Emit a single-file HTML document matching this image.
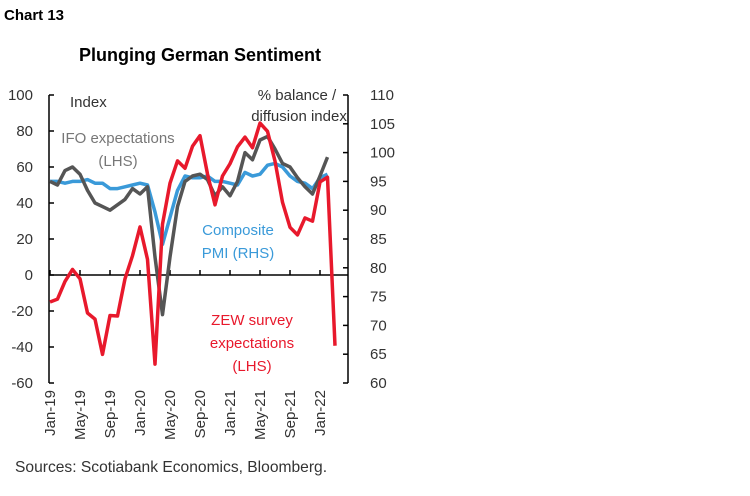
<!DOCTYPE html>
<html><head><meta charset="utf-8"><style>
body{margin:0;background:#fff;width:750px;height:491px;overflow:hidden}
svg text{font-family:"Liberation Sans",sans-serif}
</style></head><body>
<svg id="s" width="750" height="491" xmlns="http://www.w3.org/2000/svg">
<text x="4" y="20" font-size="15" font-weight="bold">Chart 13</text>
<text x="200" y="61" font-size="18" font-weight="bold" text-anchor="middle">Plunging German Sentiment</text>
<g id="ax" stroke="#000" stroke-width="1.5" fill="none"></g>
<g id="lb" font-size="15" fill="#333"></g>
<g id="ln"></g>
<text x="70" y="107" font-size="15" fill="#333">Index</text>
<text x="297" y="100" font-size="15" fill="#333" text-anchor="middle">% balance /</text>
<text x="299" y="121" font-size="15" fill="#333" text-anchor="middle">diffusion index</text>
<text x="118" y="143" font-size="15" fill="#777" text-anchor="middle">IFO expectations</text>
<text x="118" y="166" font-size="15" fill="#777" text-anchor="middle">(LHS)</text>
<text x="238" y="235" font-size="15" fill="#3a9ad9" text-anchor="middle">Composite</text>
<text x="238" y="258" font-size="15" fill="#3a9ad9" text-anchor="middle">PMI (RHS)</text>
<text x="252" y="325" font-size="15" fill="#e8192c" text-anchor="middle">ZEW survey</text>
<text x="252" y="348" font-size="15" fill="#e8192c" text-anchor="middle">expectations</text>
<text x="252" y="371" font-size="15" fill="#e8192c" text-anchor="middle">(LHS)</text>
<text x="15" y="472" font-size="15.6" fill="#333">Sources: Scotiabank Economics, Bloomberg.</text>
</svg>
<script>
const NS="http://www.w3.org/2000/svg",s=document.getElementById('s');
function el(p,t,a,txt){const e=document.createElementNS(NS,t);for(const k in a)e.setAttribute(k,a[k]);if(txt!==undefined)e.textContent=txt;document.getElementById(p).appendChild(e);}
const X=i=>50+i*7.5,Y=v=>275-v*1.8;
el('ax','line',{x1:49,y1:95,x2:49,y2:383});
el('ax','line',{x1:348,y1:95,x2:348,y2:383});
el('ax','line',{x1:49,y1:275,x2:348,y2:275});
for(let v=-60;v<=100;v+=20){el('ax','line',{x1:49,y1:Y(v),x2:54,y2:Y(v)});el('lb','text',{x:33,y:Y(v)+5,'text-anchor':'end'},v);}
for(let k=0;k<=10;k++){const v=60+5*k,y=383-k*28.8;el('ax','line',{x1:343,y1:y,x2:348,y2:y});el('lb','text',{x:370,y:y+5},v);}
const xl=["Jan-19","May-19","Sep-19","Jan-20","May-20","Sep-20","Jan-21","May-21","Sep-21","Jan-22"];
xl.forEach((t,k)=>{const x=X(k*4);el('ax','line',{x1:x,y1:275,x2:x,y2:270});el('lb','text',{transform:`translate(${x+5},390) rotate(-90)`,'text-anchor':'end'},t);});
function pl(d,c){el('ln','polyline',{points:d.map((v,i)=>X(i)+','+Y(v)).join(' '),fill:'none',stroke:c,'stroke-width':3.5,'stroke-linejoin':'round'});}
pl([52,52,51,52,52,53,51,51,48,48,49,50,51,50,35,17,32,47,55,54,54,55,52,52,51,50,57,55,56,61,62,60,55,52,51,48,54,56],'#3a9ad9');
pl([52,50,58,60,56,47,40,38,36,39,42,48,45,49,10,-22,10,38,52,55,56,53,44,49,44,52,68,64,75,77,70,62,60,54,49,45,55,65.5],'#555');
pl([-15,-13.4,-3.6,3.1,-2.1,-21.1,-24.5,-44.1,-22.5,-22.8,-2.1,10.7,26.7,8.7,-49.5,28.2,51,63.4,59.3,71.5,77.4,56.1,39,55,61.8,71.2,76.6,70.7,84.4,79.8,63.3,40.4,26.5,22.3,31.7,29.9,51.7,54.3,-39.3],'#e8192c');
</script>
</body></html>
